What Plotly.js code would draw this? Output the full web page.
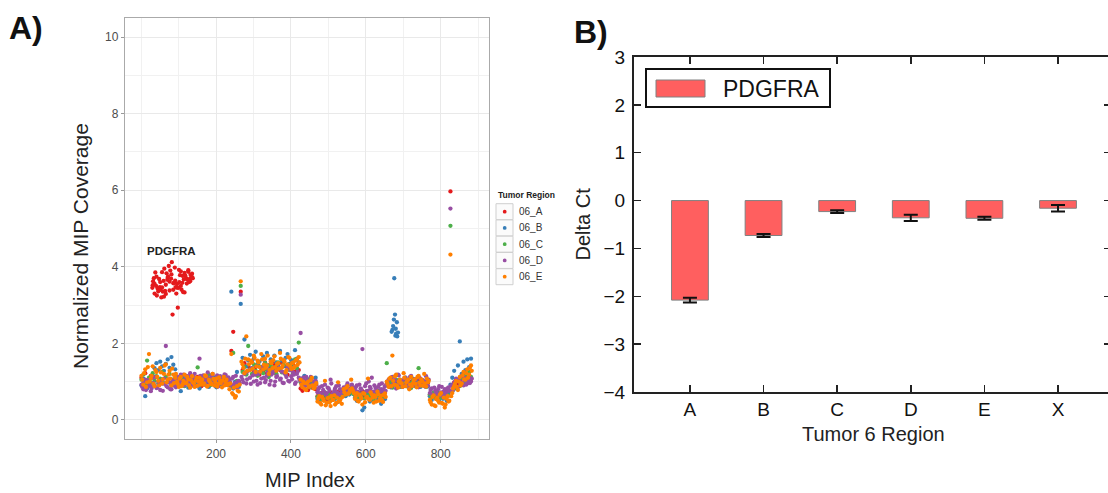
<!DOCTYPE html>
<html><head><meta charset="utf-8">
<script src="https://cdn.plot.ly/plotly-3.0.1.min.js"></script>
<style>html,body{margin:0;padding:0;overflow:hidden;background:#fff}#chart{width:1116px;height:493px}</style>
</head><body><div id="chart"></div>
<script>
// ---------- Panel A data: normalized MIP coverage (sampled every 5th MIP index) ----------
const MIP_FIRST = 1, MIP_STEP = 5, MIP_MID_OFFSET = 2;
const regionNames = ['06_A','06_B','06_C','06_D','06_E'];
const regionColors = ['#E41A1C','#377EB8','#4DAF4A','#984EA3','#FF7F00'];

const cov06A = [
 1.10,0.95,1.22,1.02,0.90,1.15,3.52,3.30,3.74,3.41,3.60,3.86,3.22,3.53,3.71,3.38,3.80,3.57,3.64,
 3.45,3.92,3.50,3.76,3.33,3.69,3.87,3.62,3.73,1.05,0.92,1.12,0.98,0.88,1.10,1.00,0.94,1.08,0.96,1.14,0.90,1.04,1.00,0.93,1.09,0.97,1.06,0.91,
 0.92,1.80,2.30,0.85,0.95,1.00,
 3.35,1.30,1.48,1.20,1.40,1.32,1.52,1.25,1.38,1.45,1.18,1.35,1.28,1.50,1.22,1.42,1.34,1.26,1.46,1.20,1.38,1.30,1.48,1.24,1.40,1.18,1.36,1.32,1.44,1.26,1.35,1.30,
 0.82,0.76,0.86,0.92,0.78,0.95,0.84,0.98,0.80,
 0.62,0.55,0.70,0.58,0.66,0.52,0.64,0.72,0.56,0.68,0.60,0.74,0.58,0.65,
 0.75,0.68,0.80,0.70,0.78,0.72,
 0.66,0.72,0.60,0.70,0.75,0.62,0.68,0.58,0.74,0.65,0.62,0.72,0.64,0.76,0.68,0.60,0.70,
 0.95,0.98,0.92,1.00,0.96,0.90,0.97,1.02,0.94,0.99,0.93,0.97,1.01,0.95,0.91,0.98,0.96,1.03,0.94,0.97,0.99,0.92,0.96,
 0.65,0.60,0.68,0.62,0.66,0.58,0.64,0.61,0.67,0.63,0.70,
 5.97,0.92,0.98,1.05,0.95,1.02,1.08,0.97,1.10,1.04,1.12,1.06];
// additional PDGFRA MIPs in 06_A (every 2nd MIP index from 30)
const pdgfraStart = 30, pdgfraStep = 2;
const pdgfraCov = [
 3.45,3.62,3.70,3.55,3.85,3.50,3.25,3.43,3.36,3.68,
 3.47,3.40,3.20,3.46,3.35,3.63,3.95,3.37,3.29,3.83,
 3.66,3.75,4.02,3.61,3.90,3.69,4.12,2.75,3.40,3.58,
 3.98,3.47,3.30,3.55,2.93,3.45,3.60,3.78,3.88,3.40,
 3.58,3.34,3.67,3.84,3.77,3.70,3.56,3.66,3.91,3.60,
 3.68,3.79,3.72,3.82,3.70];

const cov06B = [
 0.90,1.08,0.62,0.82,1.02,0.88,1.15,1.35,1.48,1.30,1.52,1.40,1.28,1.46,1.58,1.36,1.64,1.44,1.32,
 1.02,0.88,0.75,1.10,0.95,1.05,0.84,1.00,1.12,0.90,1.06,0.96,0.82,1.04,1.14,0.92,1.00,0.86,1.08,0.98,1.10,0.85,1.02,1.06,0.92,1.12,0.94,1.04,
 0.92,3.35,0.82,1.00,1.25,0.86,
 3.03,1.62,2.10,1.40,1.55,1.70,1.35,1.60,1.78,1.45,1.52,1.38,1.66,1.48,1.75,1.42,1.58,1.36,1.68,1.50,1.44,1.80,1.55,1.40,1.62,1.72,1.46,1.56,1.38,1.82,1.60,1.50,
 1.08,0.95,1.15,0.90,1.05,0.88,1.00,0.94,1.10,
 0.55,0.48,0.62,0.52,0.66,0.45,0.58,0.50,0.64,0.54,0.60,0.47,0.56,0.63,
 0.70,0.62,0.80,0.66,0.75,0.68,
 0.58,0.50,0.64,0.55,0.25,0.32,0.60,0.66,0.48,0.62,0.52,0.68,0.56,0.64,0.42,0.58,0.54,
 0.90,1.00,0.85,2.35,3.70,2.25,0.94,1.05,0.86,0.98,0.92,1.02,0.84,0.96,1.08,0.88,0.99,0.93,0.86,1.00,0.90,0.97,0.87,
 0.62,0.52,0.68,0.56,0.64,0.48,0.70,0.55,0.60,0.50,0.72,
 0.92,1.10,1.28,1.00,1.42,2.05,1.20,1.52,1.30,1.58,1.38,1.60];
// extra 06_B MIPs in the spike near index 680
const spikeIdxB = [669,673,675,678,679,680,683,684,686];
const spikeCovB = [2.30,2.45,2.62,2.75,2.20,2.38,2.55,2.18,2.28];

const cov06C = [
 1.05,1.18,0.92,1.55,1.10,0.98,1.22,1.02,1.14,0.95,1.08,1.25,0.96,1.12,1.00,1.20,0.90,1.06,1.15,
 1.00,1.10,0.92,1.05,0.88,1.12,0.97,1.03,0.90,1.08,0.95,1.37,1.02,0.93,1.09,0.98,1.06,1.18,0.91,1.04,0.96,1.11,0.89,1.02,1.07,0.94,1.00,0.97,
 0.95,0.88,1.75,0.92,1.02,0.96,
 3.50,1.25,1.38,1.18,1.93,1.32,1.20,1.45,1.28,1.15,1.40,1.35,1.22,1.48,1.30,1.12,1.42,1.26,1.36,1.20,1.50,1.33,1.24,1.44,1.18,1.38,1.30,1.46,1.22,1.58,1.34,2.02,
 0.98,0.88,1.02,0.92,1.06,0.85,0.95,0.90,1.00,
 0.60,0.68,0.55,0.64,0.72,0.58,0.66,0.52,0.62,0.70,0.57,0.65,0.60,0.68,
 0.72,0.66,0.78,0.70,0.75,0.68,
 0.66,0.58,0.72,0.62,0.68,0.56,0.74,0.64,0.60,0.70,0.55,0.67,0.63,0.76,0.59,0.65,0.61,
 1.48,0.88,0.98,0.84,0.95,1.05,0.90,0.86,1.00,0.92,1.10,0.87,0.96,0.83,1.02,0.91,0.97,1.35,0.88,1.04,0.93,0.86,0.99,
 0.66,0.58,0.72,0.62,0.75,0.56,0.68,0.64,0.60,0.70,0.63,
 5.07,0.75,0.92,0.82,1.02,0.88,1.10,0.95,1.18,1.00,1.25,1.12];

const cov06D = [
 0.92,0.80,1.05,0.86,0.98,0.75,1.10,0.90,0.83,1.00,0.78,0.95,1.08,1.93,0.85,0.97,0.80,1.04,0.88,
 1.08,0.94,1.18,1.02,0.90,1.15,1.00,1.22,0.96,1.10,0.88,1.05,1.60,0.98,1.16,0.92,1.12,1.04,0.95,1.20,0.99,1.09,0.87,1.14,1.01,0.93,1.17,1.06,
 1.05,0.90,1.12,0.96,0.85,1.02,
 3.27,1.05,1.20,0.95,1.28,1.10,1.35,1.00,1.18,0.92,1.25,1.08,1.40,0.98,1.15,1.30,1.02,1.22,0.90,1.12,1.32,1.05,1.26,0.96,1.18,1.38,1.00,1.14,1.24,0.94,1.20,1.10,
 2.27,1.05,0.92,1.12,0.98,0.88,1.08,0.95,1.02,
 0.72,0.85,0.66,0.78,0.92,0.70,0.82,1.05,0.68,0.76,0.88,0.64,0.80,0.74,
 0.85,0.75,0.95,0.80,0.90,0.78,
 0.78,0.90,0.70,0.82,1.85,0.72,0.95,0.76,0.86,1.10,0.74,0.84,0.70,0.92,0.80,0.75,0.88,
 0.92,1.05,0.86,1.12,0.96,0.82,1.18,0.94,1.02,0.88,1.10,0.98,0.84,1.15,0.90,1.06,0.95,0.85,1.08,1.00,0.92,1.14,0.89,
 0.70,0.82,0.64,0.76,0.68,0.88,0.72,0.62,0.80,0.74,0.85,
 5.52,0.80,0.95,1.08,0.85,1.00,1.15,0.90,1.05,0.95,1.12,1.00];
// 06_D at the in-between MIP indices (3, 8, 13, ...)
const cov06D_mid = [
 0.86,0.98,0.78,1.04,0.90,0.82,0.96,1.12,0.84,0.92,1.02,0.76,0.94,0.88,1.06,0.80,0.99,0.91,0.85,
 1.12,1.00,0.92,1.18,1.06,0.96,1.14,1.03,0.90,1.20,1.08,0.98,1.15,0.94,1.10,1.02,1.24,0.97,1.13,1.05,0.91,1.16,1.04,1.09,0.95,1.19,1.01,1.11,
 0.98,1.08,0.92,1.15,1.00,0.94,
 1.12,0.98,1.22,1.06,1.30,0.94,1.16,1.26,1.02,1.20,0.96,1.34,1.10,1.04,1.24,0.92,1.18,1.28,1.00,1.14,1.36,1.08,0.97,1.22,1.12,1.02,1.30,1.06,1.18,0.98,1.26,1.04,
 0.96,1.10,0.90,1.04,0.94,1.12,0.88,1.00,0.92,
 0.80,0.70,0.88,0.74,0.66,0.84,0.76,0.95,0.70,0.82,0.72,0.90,0.68,0.78,
 0.78,0.88,0.82,0.76,0.92,0.84,
 0.85,0.74,0.92,0.80,0.70,0.88,0.76,1.00,0.82,0.72,0.90,0.78,0.86,0.74,0.95,0.80,0.76,
 1.00,0.88,1.10,0.94,1.04,0.90,1.16,0.96,0.86,1.08,0.93,1.02,1.12,0.89,0.98,1.06,0.91,1.10,0.95,1.03,0.87,0.99,1.05,
 0.78,0.66,0.84,0.72,0.80,0.64,0.86,0.74,0.68,0.82,0.76,
 0.90,0.78,1.00,0.86,1.06,0.94,0.98,1.10,0.92,1.04,0.96,1.08];

const cov06E = [
 1.15,0.92,1.32,0.98,1.72,1.08,1.40,0.88,1.25,1.02,1.36,0.95,1.20,1.45,1.05,1.28,0.90,1.18,1.10,
 1.00,0.86,1.12,0.93,1.18,0.97,1.06,0.84,1.14,0.95,1.03,0.89,1.10,1.00,0.92,1.16,0.87,1.05,0.96,1.20,0.90,1.08,0.94,1.02,0.85,1.12,0.98,0.91,
 0.80,1.72,0.66,0.58,0.88,0.74,
 3.62,1.45,1.22,2.18,1.58,1.30,1.50,1.68,1.25,1.55,1.38,1.72,1.32,1.60,1.42,1.20,1.52,1.35,1.66,1.28,1.48,1.75,1.36,1.56,1.24,1.45,1.62,1.33,1.50,1.40,1.58,1.64,
 1.05,0.85,0.96,0.78,1.00,0.88,1.10,0.82,0.92,
 0.48,0.62,0.40,0.55,1.02,0.45,0.58,0.36,0.52,0.64,0.44,0.98,0.50,0.42,
 0.80,0.66,0.88,0.72,1.05,0.76,
 0.55,0.70,0.48,0.62,0.40,0.68,0.58,1.08,0.52,0.66,0.45,0.60,0.74,0.50,0.63,0.47,0.69,
 1.00,0.86,1.10,1.68,0.92,1.18,0.84,1.05,0.95,1.22,0.88,1.02,0.80,1.12,0.96,1.06,0.85,1.15,0.90,1.00,1.20,0.87,0.98,
 0.52,0.40,0.64,0.36,0.58,0.45,0.70,0.42,0.32,0.55,0.48,
 4.32,0.70,0.88,1.02,0.78,1.12,0.95,1.25,1.05,1.32,1.18,1.42];
// 06_E at the in-between MIP indices (3, 8, 13, ...)
const cov06E_mid = [
 1.05,1.22,0.86,1.38,1.00,1.15,0.94,1.30,1.12,0.90,1.24,1.06,1.42,0.98,1.18,1.08,1.34,0.96,1.20,
 0.94,1.08,0.88,1.02,0.96,1.12,0.90,1.04,0.98,0.86,1.10,1.00,0.92,1.06,0.95,1.14,0.89,1.01,0.93,1.07,0.99,0.87,1.11,0.96,1.03,0.90,1.05,0.94,
 0.95,0.70,0.84,0.62,0.76,0.92,
 1.52,1.36,1.60,1.28,1.45,1.55,1.34,1.62,1.40,1.50,1.26,1.58,1.44,1.36,1.68,1.30,1.48,1.56,1.38,1.46,1.34,1.60,1.42,1.52,1.30,1.64,1.40,1.48,1.36,1.55,1.44,1.50,
 0.92,1.00,0.80,0.95,0.86,1.04,0.90,0.84,0.96,
 0.56,0.44,0.60,0.50,0.38,0.57,0.46,0.62,0.52,0.40,0.58,0.48,0.55,0.60,
 0.72,0.84,0.68,0.78,0.82,0.70,
 0.62,0.50,0.66,0.56,0.70,0.46,0.60,0.54,0.72,0.58,0.64,0.48,0.67,0.57,0.52,0.65,0.60,
 0.94,1.08,0.88,1.02,1.14,0.90,1.00,0.96,0.86,1.10,0.98,1.05,0.92,0.88,1.04,0.94,1.12,0.97,1.06,0.89,0.95,1.08,1.02,
 0.46,0.60,0.38,0.54,0.50,0.66,0.44,0.58,0.40,0.62,0.50,
 0.62,0.82,0.94,0.86,1.00,0.90,1.16,1.06,1.22,1.10,1.36,1.28];

const xTickVals = [200,400,600,800];
const yTickVals = [0,2,4,6,8,10];

// ---------- Panel B data: qPCR delta Ct ----------
const tumorRegions = ['A','B','C','D','E','X'];
const deltaCt = [-2.08,-0.73,-0.23,-0.36,-0.37,-0.16];
const deltaCtErr = [0.05,0.03,0.03,0.065,0.03,0.07];

// ---------- build ----------
const W = 1116, H = 493;
const PX = x => x / W, PY = y => 1 - y / H;
const FONT = 'Liberation Sans, Arial, Helvetica, sans-serif';

function coverageTrace(k, vals, midVals, extraIdx, extraCov) {
  const x = [], y = [];
  vals.forEach((v, i) => { if (v !== null) { x.push(MIP_FIRST + i * MIP_STEP); y.push(v); } });
  (midVals || []).forEach((v, i) => { if (v !== null) { x.push(MIP_FIRST + MIP_MID_OFFSET + i * MIP_STEP); y.push(v); } });
  (extraIdx || []).forEach((ix, j) => { x.push(ix); y.push(extraCov[j]); });
  return {type:'scatter', mode:'markers', name:regionNames[k], x, y, xaxis:'x', yaxis:'y',
    marker:{color:regionColors[k], size:4.3, line:{width:0}}, showlegend:false, hoverinfo:'skip'};
}
const pdgfraIdx = pdgfraCov.map((_, j) => pdgfraStart + j * pdgfraStep);

const traces = [
  coverageTrace(0, cov06A, null, pdgfraIdx, pdgfraCov),
  coverageTrace(1, cov06B, null, spikeIdxB, spikeCovB),
  coverageTrace(2, cov06C),
  coverageTrace(3, cov06D, cov06D_mid),
  coverageTrace(4, cov06E, cov06E_mid),
  {type:'bar', name:'PDGFRA', x:tumorRegions, y:deltaCt, xaxis:'x2', yaxis:'y2', width:0.5,
   marker:{color:'#FF5F5F', line:{color:'#808080', width:1}},
   error_y:{type:'data', array:deltaCtErr, visible:true, color:'#111', thickness:2, width:7},
   showlegend:false, hoverinfo:'skip'}
];

const annotations = [
  {text:'<b>A)</b>', x:PX(7), y:PY(28), xanchor:'left', yanchor:'middle', font:{size:32, color:'#111'}},
  {text:'<b>B)</b>', x:PX(572), y:PY(32), xanchor:'left', yanchor:'middle', font:{size:32, color:'#111'}},
  {text:'Normalized MIP Coverage', x:PX(81), y:PY(246), textangle:-90, font:{size:21, color:'#222'}},
  {text:'MIP Index', x:PX(310), y:PY(480), font:{size:20, color:'#222'}},
  {text:'<b>PDGFRA</b>', xref:'x', yref:'y', x:82, y:4.41, showarrow:false, font:{size:11.5, color:'#222'}},
  {text:'<b>Tumor Region</b>', x:PX(496), y:PY(195), xanchor:'left', font:{size:8.5, color:'#222'}},
  {text:'Delta Ct', x:PX(582), y:PY(224.5), textangle:-90, font:{size:20, color:'#222'}},
  {text:'Tumor 6 Region', x:PX(873), y:PY(434), font:{size:20, color:'#222'}},
  {text:'PDGFRA', x:PX(721), y:PY(88.5), xanchor:'left', font:{size:23, color:'#111'}}
].map(a => Object.assign({xref:'paper', yref:'paper', showarrow:false, xanchor:'center', yanchor:'middle'}, a));

const shapes = [];
regionNames.forEach((nm, k) => {
  const cy = 211.7 + 16.25 * k;
  shapes.push({type:'rect', xref:'paper', yref:'paper', x0:PX(496), x1:PX(513), y0:PY(cy - 8), y1:PY(cy + 8),
    line:{color:'#cfcfcf', width:1}, fillcolor:'#fbfbfb'});
  shapes.push({type:'circle', xref:'paper', yref:'paper', x0:PX(502.8), x1:PX(506.6), y0:PY(cy - 1.9), y1:PY(cy + 1.9),
    line:{width:0}, fillcolor:regionColors[k]});
  annotations.push({text:nm, xref:'paper', yref:'paper', x:PX(517), y:PY(cy), xanchor:'left', yanchor:'middle',
    showarrow:false, font:{size:10, color:'#333'}});
});
// panel B legend box
shapes.push({type:'rect', xref:'paper', yref:'paper', x0:PX(646), x1:PX(830), y0:PY(69), y1:PY(107),
  line:{color:'#111', width:2}, fillcolor:'#fff'});
shapes.push({type:'rect', xref:'paper', yref:'paper', x0:PX(656), x1:PX(705), y0:PY(80), y1:PY(97),
  line:{color:'#808080', width:1}, fillcolor:'#FF5F5F'});

const layout = {
  width:W, height:H, margin:{l:0, r:0, t:0, b:0},
  paper_bgcolor:'#fff', plot_bgcolor:'#fff',
  font:{family:FONT, color:'#222'},
  showlegend:false,
  xaxis:{domain:[PX(125), PX(489)], range:[-43, 929], anchor:'y',
    tickmode:'array', tickvals:xTickVals, showgrid:true, gridcolor:'#e9e9e9', gridwidth:1,
    minor:{tick0:0, dtick:100, showgrid:true, gridcolor:'#f1f1f1', gridwidth:1},
    ticks:'outside', ticklen:3, tickcolor:'#999', tickfont:{size:12, color:'#4d4d4d'},
    showline:true, mirror:true, linecolor:'#aaa', linewidth:1.2, zeroline:false},
  yaxis:{domain:[PY(439), PY(18)], range:[-0.5, 10.5], anchor:'x',
    tickmode:'array', tickvals:yTickVals, showgrid:true, gridcolor:'#e9e9e9', gridwidth:1,
    minor:{tick0:0, dtick:1, showgrid:true, gridcolor:'#f1f1f1', gridwidth:1},
    ticks:'outside', ticklen:3, tickcolor:'#999', tickfont:{size:12, color:'#4d4d4d'},
    showline:true, mirror:true, linecolor:'#aaa', linewidth:1.2, zeroline:false},
  xaxis2:{domain:[PX(634), PX(1111)], type:'category', range:[-0.76, 5.72], anchor:'y2',
    ticks:'inside', ticklen:7, tickwidth:1.5, tickcolor:'#222', showgrid:false,
    showline:true, mirror:'ticks', linecolor:'#222', linewidth:2,
    tickfont:{size:19, color:'#111'}, ticklabelstandoff:-1},
  yaxis2:{domain:[PY(392), PY(57)], range:[-4, 3], dtick:1, anchor:'x2',
    ticks:'inside', ticklen:7, tickwidth:1.5, tickcolor:'#222', showgrid:false, zeroline:false,
    showline:true, mirror:'ticks', linecolor:'#222', linewidth:2,
    tickfont:{size:19, color:'#111'}, ticklabelstandoff:3},
  annotations, shapes
};

Plotly.newPlot('chart', traces, layout, {staticPlot:true, displayModeBar:false});
</script>
</body></html>
